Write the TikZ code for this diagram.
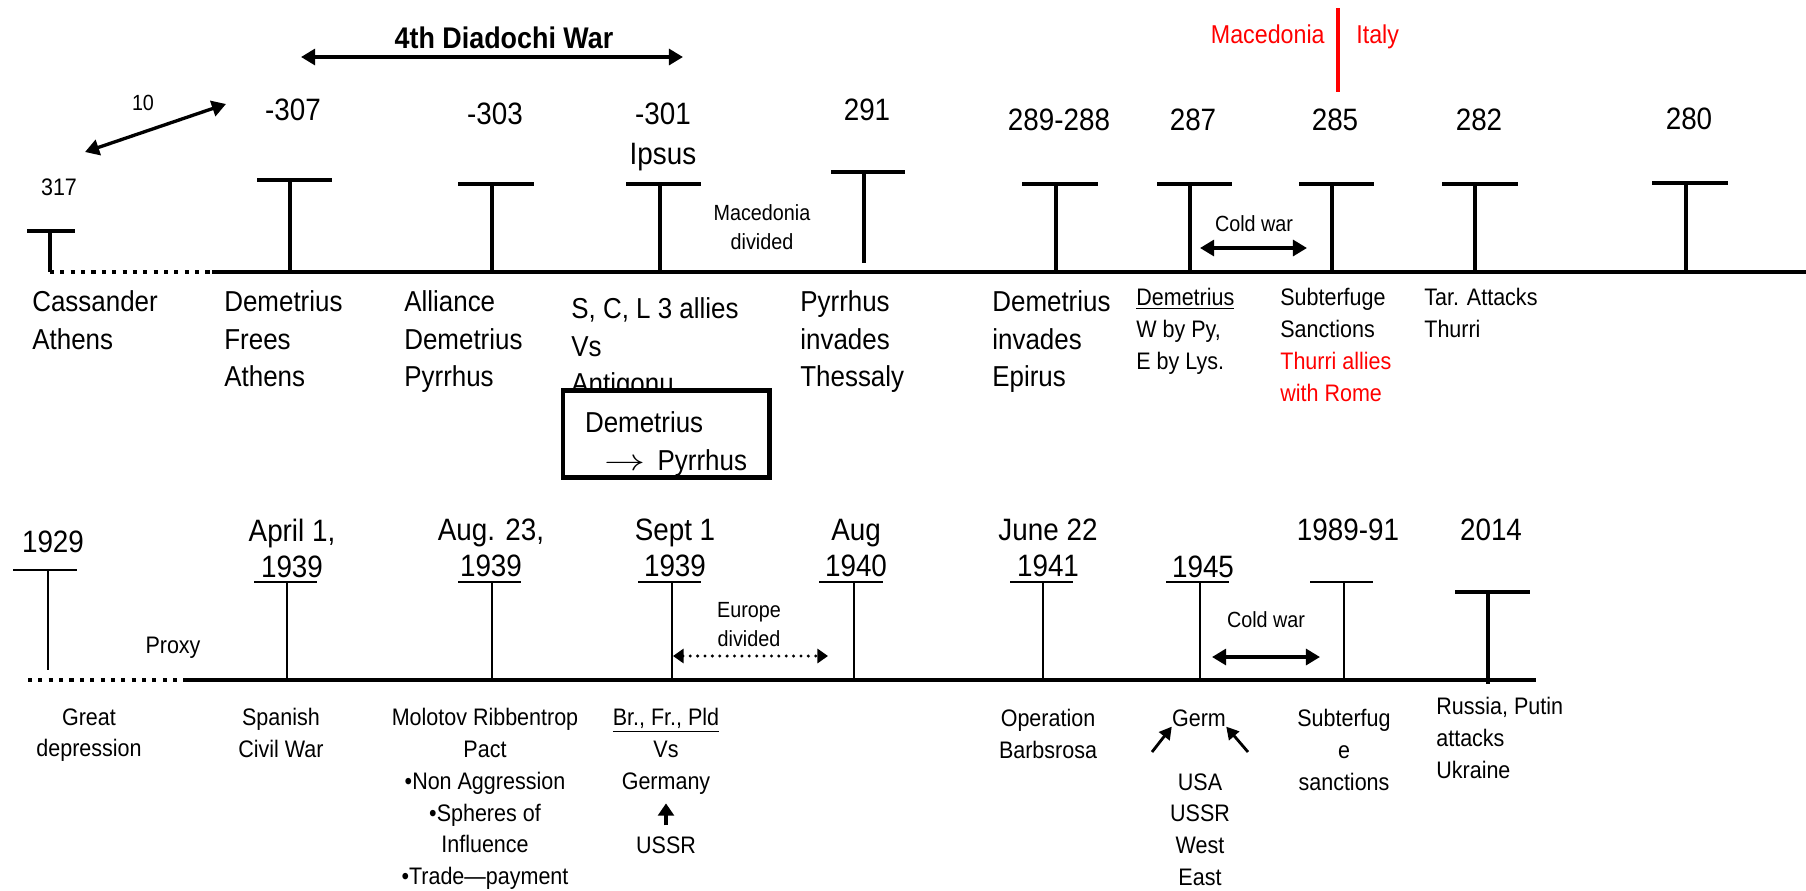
\documentclass[tikz,border=0pt]{standalone}
\usepackage{fontspec}
\setmainfont{Liberation Sans}[FakeStretch=0.9]
\usetikzlibrary{arrows.meta}

\begin{document}
\begin{tikzpicture}[x=0.02cm,y=-0.02cm,
    yr/.style={font=\fontsize{17.6pt}{20.4pt}\selectfont,align=center,inner sep=0pt,anchor=north},
    lbl/.style={font=\fontsize{16.4pt}{21.5pt}\selectfont,align=left,inner sep=0pt,anchor=north west},
    sml/.style={font=\fontsize{13.6pt}{18.1pt}\selectfont,inner sep=0pt},
    tny/.style={font=\fontsize{12.5pt}{16.5pt}\selectfont,align=center,inner sep=0pt,anchor=north},
    tbar/.style={line width=2.6pt},
    thinbar/.style={line width=0.9pt},
    dots/.style={line width=2.5pt,dash pattern=on 2.3pt off 3.6pt},
    dbl/.style={<->,>={Triangle[length=8pt,width=9pt]},line width=2.2pt},
    dotarr/.style={<->,>={Triangle[length=6pt,width=8pt]},line width=1.9pt,line cap=round,dash pattern=on 0pt off 4.2pt},
    ptr/.style={-{Triangle[length=7pt,width=7.5pt]},line width=1.6pt}]
  \useasboundingbox (0,0) rectangle (1806,890);

  % war header
  \node[font=\bfseries\fontsize{17pt}{20pt}\selectfont,anchor=north,inner sep=0pt] (war) at (504,27) {4th Diadochi War};
  \coordinate (warl) at (301,57);
  \coordinate (warr) at (683,57);
  \draw[dbl] (warl) -- (warr);
  \node[tny] (ten) at (143,95) {10};
  \coordinate (tenl) at (85,152);
  \coordinate (tenr) at (226,104);
  \draw[dbl,line width=1.9pt] (tenl) -- (tenr);
  \node[font=\fontsize{14.7pt}{17pt}\selectfont,text=red,anchor=north east,inner sep=0pt] (mac) at (1325,24) {Macedonia};
  \node[font=\fontsize{14.7pt}{17pt}\selectfont,text=red,anchor=north west,inner sep=0pt] (ita) at (1356,24) {Italy};
  \draw[red,line width=2.3pt] (1338,8) -- (1338,92);

  % upper time line
  \draw[dots] (50,272) -- (212,272);
  \draw[line width=2.8pt] (212,272) -- (1806,272);
  \draw[tbar] (27,231) -- (75,231) (50,231) -- (50,272);
  \draw[tbar] (257,180) -- (332,180) (290,180) -- (290,272);
  \draw[tbar] (458,184) -- (534,184) (492,184) -- (492,272);
  \draw[tbar] (626,184) -- (701,184) (660,184) -- (660,272);
  \draw[tbar] (831,172) -- (905,172) (864,172) -- (864,263);
  \draw[tbar] (1022,184) -- (1098,184) (1056,184) -- (1056,272);
  \draw[tbar] (1157,184) -- (1232,184) (1190,184) -- (1190,272);
  \draw[tbar] (1299,184) -- (1374,184) (1332,184) -- (1332,272);
  \draw[tbar] (1442,184) -- (1518,184) (1475,184) -- (1475,272);
  \draw[tbar] (1652,183) -- (1728,183) (1686,183) -- (1686,272);

  % upper years
  \node[sml,anchor=north] (y317) at (59,178) {317};
  \node[yr] (y307) at (293,99) {-307};
  \node[yr] (y303) at (495,103) {-303};
  \node[yr] (y301) at (663,103) {-301\\[2.3pt]Ipsus};
  \node[yr] (y291) at (867,99) {291};
  \node[yr] (y289) at (1059,109) {289-288};
  \node[yr] (y287) at (1193,109) {287};
  \node[yr] (y285) at (1335,109) {285};
  \node[yr] (y282) at (1479,109) {282};
  \node[yr] (y280) at (1689,108) {280};
  \node[tny] (macdiv) at (762,204) {Macedonia\\divided};
  \node[tny] (cold1) at (1254,215) {Cold war};
  \coordinate (cold1l) at (1200,248);
  \coordinate (cold1r) at (1307,248);
  \draw[dbl] (cold1l) -- (cold1r);

  % upper events
  \node[lbl] (cass) at (32,290) {Cassander\\Athens};
  \node[lbl] (frees) at (224,290) {Demetrius\\Frees\\Athens};
  \node[lbl] (alli) at (404,290) {Alliance\\Demetrius\\Pyrrhus};
  \node[lbl] (ipsus) at (571,297) {S, C, L 3 allies\\Vs\\Antigonu};
  \node[draw,line width=2.3pt,fill=white,minimum width=4.14cm,minimum height=1.74cm,inner sep=0pt,align=left,
    font=\fontsize{16.4pt}{21.5pt}\selectfont] (shift) at (666,434)
    {\rule{0pt}{23pt}Demetrius\\\hspace*{11pt}\scalebox{1.35}[1]{$\rightarrow$}\hspace{7pt}Pyrrhus};
  \node[lbl] (thess) at (800,290) {Pyrrhus\\invades\\Thessaly};
  \node[lbl] (epir) at (992,290) {Demetrius\\invades\\Epirus};
  \node[sml,align=left,anchor=north west] (split) at (1136,288) {\underline{Demetrius}\\W by Py,\\E by Lys.};
  \node[sml,align=left,anchor=north west] (subt) at (1280,288)
    {Subterfuge\\Sanctions\\\textcolor{red}{Thurri allies}\\\textcolor{red}{with Rome}};
  \node[sml,align=left,anchor=north west] (tar) at (1424,288) {Tar. Attacks\\Thurri};

  % lower time line
  \draw[dots,line width=2.3pt] (28,680) -- (188,680);
  \draw[line width=2.4pt] (188,680) -- (1536,680);
  \draw[thinbar] (13,570) -- (77,570) (48,570) -- (48,670);
  \draw[thinbar] (254,582) -- (317,582) (287,582) -- (287,680);
  \draw[thinbar] (458,582) -- (521,582) (492,582) -- (492,680);
  \draw[thinbar] (638,582) -- (701,582) (672,582) -- (672,680);
  \draw[thinbar] (819,582) -- (883,582) (854,582) -- (854,680);
  \draw[thinbar] (1010,582) -- (1073,582) (1043,582) -- (1043,680);
  \draw[thinbar] (1166,582) -- (1229,582) (1200,582) -- (1200,680);
  \draw[thinbar] (1310,582) -- (1373,582) (1344,582) -- (1344,680);
  \draw[tbar] (1455,592) -- (1530,592) (1488,592) -- (1488,684);

  % lower years
  \node[yr] (y1929) at (53,531) {1929};
  \node[yr] (apr) at (292,519) {April 1,\\1939};
  \node[yr] (aug23) at (491,519) {Aug. 23,\\1939};
  \node[yr] (sep) at (675,519) {Sept 1\\1939};
  \node[yr] (aug40) at (856,519) {Aug\\1940};
  \node[yr] (jun) at (1048,519) {June 22\\1941};
  \node[yr] (y1945) at (1203,556) {1945};
  \node[yr] (y1989) at (1348,519) {1989-91};
  \node[yr] (y2014) at (1491,519) {2014};
  \node[sml,anchor=north] (proxy) at (173,637) {Proxy};
  \node[tny] (eudiv) at (749,602) {Europe\\divided};
  \coordinate (eul) at (673,656);
  \coordinate (eur) at (828,656);
  \draw[dotarr] (eul) -- (eur);
  \node[tny] (cold2) at (1266,611) {Cold war};
  \coordinate (cold2l) at (1212,657);
  \coordinate (cold2r) at (1320,657);
  \draw[dbl] (cold2l) -- (cold2r);

  % lower events
  \node[sml,align=center,anchor=north] (depr) at (89,708) {Great\\depression};
  \node[sml,align=center,anchor=north] (spain) at (281,708) {Spanish\\Civil War};
  \node[sml,align=center,anchor=north] (pact) at (485,708)
    {Molotov Ribbentrop\\Pact\\•Non Aggression\\•Spheres of\\Influence\\•Trade—payment};
  \node[sml,align=center,anchor=north] (brfr) at (666,708) {\underline{Br., Fr., Pld}\\Vs\\Germany};
  \node[sml,anchor=north] (ussr) at (666,836) {USSR};
  \draw[-{Triangle[length=7pt,width=9pt]},line width=2.4pt,shorten <=6pt,shorten >=5pt] (ussr.north) -- (brfr.south);
  \node[sml,align=center,anchor=north] (barb) at (1048,709) {Operation\\Barbsrosa};
  \node[sml,anchor=north] (germ) at (1199,709) {Germ};
  \node[sml,align=center,anchor=north] (allies) at (1200,773) {USA\\USSR\\West\\East};
  \coordinate (germl) at (1152,752);
  \coordinate (germr) at (1248,752);
  \draw[ptr] (germl) -- (germ.south west);
  \draw[ptr] (germr) -- (germ.south east);
  \node[sml,align=center,anchor=north] (sanc) at (1344,709) {Subterfug\\e\\sanctions};
  \node[sml,align=left,anchor=north west] (ukr) at (1436,697) {Russia, Putin\\attacks\\Ukraine};
\end{tikzpicture}
\end{document}
